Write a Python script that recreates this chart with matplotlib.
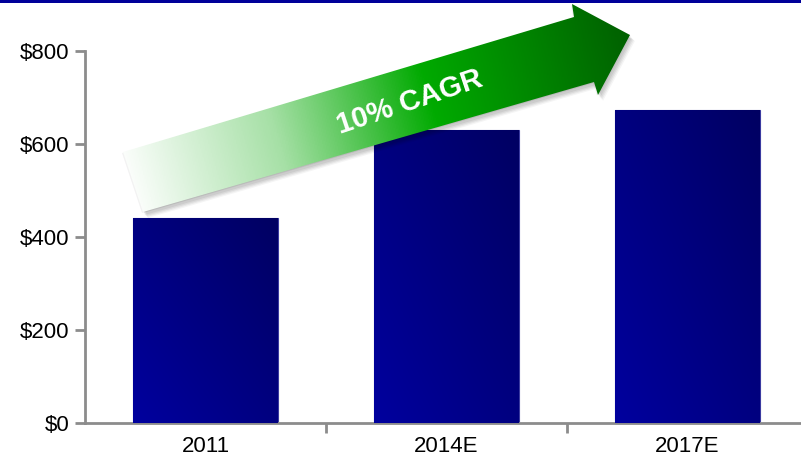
import numpy as np
import matplotlib.pyplot as plt
from matplotlib.patches import Polygon, Rectangle
from matplotlib.colors import LinearSegmentedColormap

plt.rcParams['font.family'] = ['Liberation Sans', 'DejaVu Sans']

years = ['2011', '2014E', '2017E']
revenue = [440, 630, 673]
y_ticks = [0, 200, 400, 600, 800]
y_labels = ['$0', '$200', '$400', '$600', '$800']
cagr_label = '10% CAGR'

W, H = 801, 463
fig = plt.figure(figsize=(W / 100, H / 100), dpi=100)

# main axes, right edge runs a little past the figure
ax = fig.add_axes([85 / W, 40 / H, 723 / W, 372 / H])
x = np.arange(len(years))
bars = ax.bar(x, revenue, width=0.6, color='#000090', edgecolor='#3a3aa0',
              linewidth=0.8, zorder=2)

# diagonal blue shading on each bar
gy, gx = np.mgrid[0:1:100j, 0:1:100j]
shade = (gx + gy) / 2
bar_cmap = LinearSegmentedColormap.from_list('bar', ['#00009e', '#000062'])
for b in bars:
    x0, w, h = b.get_x(), b.get_width(), b.get_height()
    im = ax.imshow(shade, cmap=bar_cmap, origin='lower', aspect='auto',
                   extent=(x0, x0 + w, 0, h), zorder=3)
    im.set_clip_path(b)

ax.set_xlim(-0.5, 2.5)
ax.set_ylim(0, 800)
ax.set_xticks(x + 0.5, minor=False)
ax.set_xticklabels([])
ax.set_xticks(x, minor=True)
ax.set_xticklabels(years, minor=True, fontsize=16)
ax.tick_params(axis='x', which='minor', length=0, pad=9)
ax.tick_params(axis='x', which='major', length=7, width=2, color='#8c8c8c')
ax.set_yticks(y_ticks)
ax.set_yticklabels(y_labels, fontsize=16)
ax.tick_params(axis='y', length=7, width=2, color='#8c8c8c', pad=4)
for side in ['top', 'right']:
    ax.spines[side].set_visible(False)
for side in ['left', 'bottom']:
    ax.spines[side].set_color('#8c8c8c')
    ax.spines[side].set_linewidth(2)

# overlay in pixel units for the banner line and the growth arrow
ov = fig.add_axes([0, 0, 1, 1], zorder=5)
ov.set_xlim(0, W)
ov.set_ylim(H, 0)
ov.axis('off')
ov.add_patch(Rectangle((0, 0), W, 3, color='#000099', lw=0))

arrow_pts = np.array([(123, 152), (574, 17), (572, 4), (630, 35),
                      (598, 95), (594, 82), (143, 212)])

# soft drop shadow, spread a bit on every side
offsets = [(-1, 1), (1, 1), (2, 3), (3, 4), (4, 5), (5, 6)]
for (dx, dy), a in zip(offsets, [0.05, 0.05, 0.06, 0.06, 0.05, 0.04]):
    ov.add_patch(Polygon(arrow_pts + np.array([dx, dy]),
                         closed=True, color='black', alpha=a, lw=0))

arrow = Polygon(arrow_pts, closed=True, facecolor='none', edgecolor='none')
ov.add_patch(arrow)

# white -> green -> dark green along the shaft direction
d = np.array([451.0, -135.0])
d /= np.linalg.norm(d)
px, py = np.meshgrid(np.linspace(110, 640, 400), np.linspace(0, 220, 200))
t = ((px - 123) * d[0] + (py - 182) * d[1])
t = (t - t.min()) / (t.max() - t.min())
green_cmap = LinearSegmentedColormap.from_list(
    'grow', [(0, '#ffffff'), (0.04, '#ffffff'), (0.32, '#a6e0a6'),
             (0.6, '#00aa00'), (1, '#005a00')])
gim = ov.imshow(t, cmap=green_cmap, extent=(110, 640, 220, 0), aspect='auto',
                origin='upper', zorder=2)
gim.set_clip_path(arrow)

ov.text(410, 102, cagr_label, color='white', fontsize=21, fontweight='bold',
        rotation=18.5, ha='center', va='center', rotation_mode='anchor', zorder=3)

fig.savefig('out.png', dpi=100)
